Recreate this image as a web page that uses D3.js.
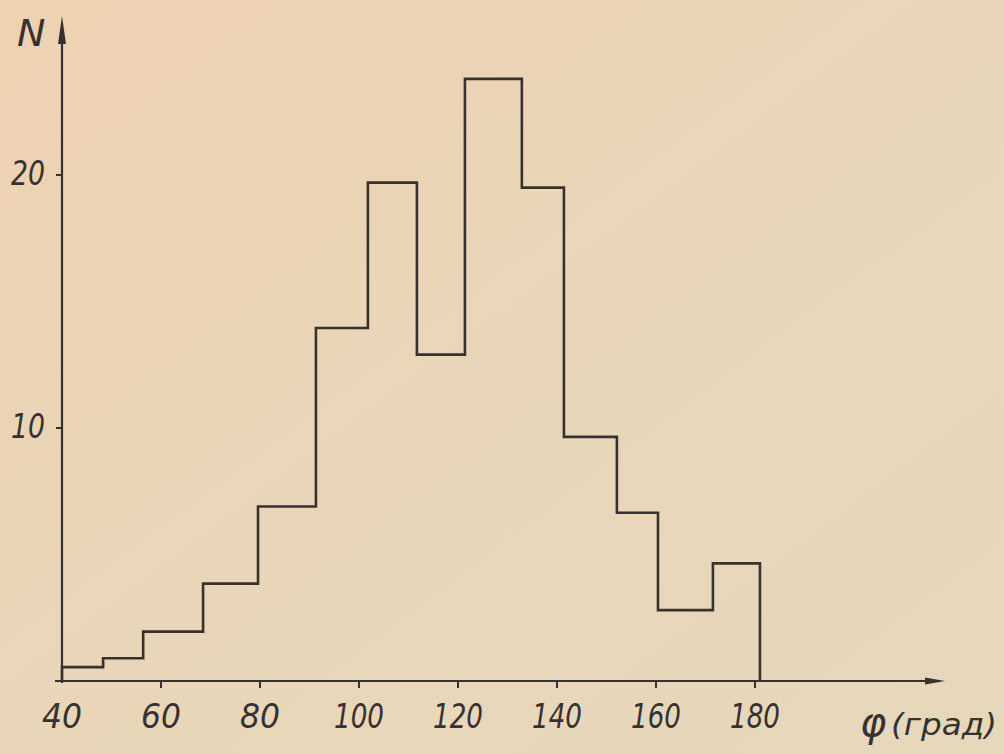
<!DOCTYPE html>
<html>
<head>
<meta charset="utf-8">
<script src="https://cdn.jsdelivr.net/npm/d3@7"></script>
<style>
  html, body { margin: 0; padding: 0; background: #e9d7bb; }
  svg { display: block; }
</style>
</head>
<body>
<svg id="chart" width="1004" height="754"></svg>
<script>
// ---- data ----
const binEdges = [40, 48.3, 56.4, 68.5, 79.6, 91.3, 101.8, 111.7, 121.4, 132.9, 141.4, 152.1, 160.4, 171.5, 181.0];
const counts   = [0.55, 0.9, 1.95, 3.85, 6.9, 13.95, 19.7, 12.9, 23.8, 19.5, 9.65, 6.65, 2.8, 4.65];
const xTicks   = [40, 60, 80, 100, 120, 140, 160, 180];
const yTicks   = [10, 20];
const xLabel   = ["φ", "(град)"];
const yLabel   = "N";

const svg = d3.select("#chart");
const W = 1004, H = 754;

// paper background
const defs = svg.append("defs");
const grad = defs.append("linearGradient").attr("id", "paper")
  .attr("x1", "0").attr("y1", "0").attr("x2", "1").attr("y2", "1");
grad.append("stop").attr("offset", "0%").attr("stop-color", "#eed2b2");
grad.append("stop").attr("offset", "50%").attr("stop-color", "#e9d6b9");
grad.append("stop").attr("offset", "100%").attr("stop-color", "#e6d8bb");
svg.append("rect").attr("width", W).attr("height", H).attr("fill", "url(#paper)");

const ink = "#37312f";
const font = "'DejaVu Sans', sans-serif";

const x = d3.scaleLinear().domain([40, 180]).range([62, 755]);
const y = d3.scaleLinear().domain([0, 20]).range([681, 175]);

// x axis line with arrow
const x0 = x(40), y0 = y(0);
svg.append("line").attr("x1", x0 - 7).attr("y1", y0).attr("x2", 935).attr("y2", y0)
  .attr("stroke", ink).attr("stroke-width", 2.2);
svg.append("path")
  .attr("d", `M945,${y0} L925,${y0 - 3.5} L925,${y0 + 3.5} Z`)
  .attr("fill", ink);

// y axis line with arrow
svg.append("line").attr("x1", x0).attr("y1", y0 + 2).attr("x2", x0).attr("y2", 40)
  .attr("stroke", ink).attr("stroke-width", 2.2);
svg.append("path")
  .attr("d", `M${x0},16 L${x0 - 4},44 L${x0 + 4},44 Z`)
  .attr("fill", ink);

// x ticks
const xt = svg.append("g");
xt.selectAll("line").data(xTicks.filter(d => d > 40)).join("line")
  .attr("x1", d => x(d)).attr("x2", d => x(d))
  .attr("y1", y0).attr("y2", y0 + 7)
  .attr("stroke", ink).attr("stroke-width", 2);
xt.selectAll("text").data(xTicks).join("text")
  .attr("x", d => x(d)).attr("y", 728)
  .attr("text-anchor", "middle")
  .attr("font-family", font).attr("font-style", "italic")
  .attr("font-size", 34).attr("fill", ink)
  .attr("textLength", d => String(d).length === 2 ? 40 : 50)
  .attr("lengthAdjust", "spacingAndGlyphs")
  .text(d => d);

// y ticks
const yt = svg.append("g");
yt.selectAll("line").data(yTicks).join("line")
  .attr("x1", x0 - 6).attr("x2", x0)
  .attr("y1", d => y(d)).attr("y2", d => y(d))
  .attr("stroke", ink).attr("stroke-width", 2);
yt.selectAll("text").data(yTicks).join("text")
  .attr("x", 45).attr("y", d => y(d) + 10)
  .attr("text-anchor", "end")
  .attr("font-family", font).attr("font-style", "italic")
  .attr("font-size", 34).attr("fill", ink)
  .attr("textLength", 34).attr("lengthAdjust", "spacingAndGlyphs")
  .text(d => d);

// axis labels
svg.append("text").attr("x", 17).attr("y", 46)
  .attr("font-family", font).attr("font-style", "italic")
  .attr("font-size", 38).attr("fill", ink).text(yLabel);
svg.append("text").attr("x", 860).attr("y", 736)
  .attr("font-family", font).attr("font-style", "italic")
  .attr("font-size", 40).attr("fill", ink).text(xLabel[0]);
svg.append("text").attr("x", 891).attr("y", 735)
  .attr("font-family", font).attr("font-style", "italic")
  .attr("font-size", 31).attr("fill", ink)
  .attr("textLength", 106).attr("lengthAdjust", "spacingAndGlyphs")
  .text(xLabel[1]);

// histogram outline (step)
let d = `M${x(binEdges[0])},${y(0)}`;
counts.forEach((c, i) => {
  d += ` V${y(c)} H${x(binEdges[i + 1])}`;
});
d += ` V${y(0)}`;
svg.append("path").attr("d", d)
  .attr("fill", "none").attr("stroke", ink)
  .attr("stroke-width", 2.6).attr("stroke-linejoin", "miter");
</script>
</body>
</html>
